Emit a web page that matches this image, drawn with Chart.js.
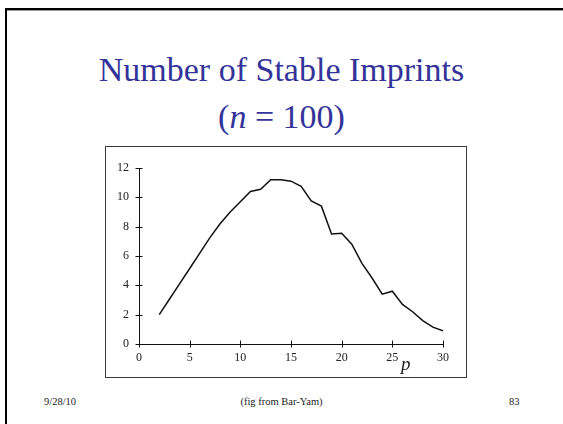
<!DOCTYPE html>
<html>
<head>
<meta charset="utf-8">
<script src="https://cdn.jsdelivr.net/npm/chart.js@4.4.1/dist/chart.umd.min.js"></script>
<style>
  html, body { margin: 0; padding: 0; background: #fff; }
  body { width: 563px; height: 424px; position: relative; overflow: hidden; font-family: 'Liberation Serif', 'Times New Roman', serif; }
  .frame-top { position: absolute; left: 5px; top: 8px; width: 558px; height: 2px; background: #000; }
  .frame-top-shade { position: absolute; left: 7px; top: 10px; width: 556px; height: 1px; background: #9a9a9a; }
  .frame-left { position: absolute; left: 5px; top: 8px; width: 2px; height: 416px; background: #000; }
  .title { position: absolute; left: 0; width: 563px; text-align: center; color: #333399; font-size: 34px; line-height: 1; }
  .box { position: absolute; left: 105px; top: 146px; width: 362px; height: 232px; border: 1px solid #3a3a3a; box-sizing: border-box; }
  #js-chart { position: absolute; left: 106px; top: 147px; }
  .axis-name { position: absolute; left: 401px; top: 353px; font-style: italic; font-size: 19px; color: #222; }
  .foot { position: absolute; top: 396px; font-size: 10.5px; color: #222; }
</style>
</head>
<body>
<div class="frame-top"></div>
<div class="frame-top-shade"></div>
<div class="frame-left"></div>

<div class="title" style="top: 53px;">Number of Stable Imprints</div>
<div class="title" style="top: 100px;">(<i>n</i> = 100)</div>

<div class="box"></div>
<canvas id="js-chart" width="360" height="230"></canvas>
<div class="axis-name">p</div>

<div class="foot" style="left: 44px;">9/28/10</div>
<div class="foot" style="left: 0; width: 563px; text-align: center;">(fig from Bar-Yam)</div>
<div class="foot" style="left: 509px;">83</div>

<script>
// p values and number of stable imprints for each p
const P_VALUES = [2, 3, 4, 5, 6, 7, 8, 9, 10, 11, 12, 13, 14, 15, 16,
  17, 18, 19, 20, 21, 22, 23, 24, 25, 26, 27, 28, 29, 30];
const IMPRINTS = [2.0, 3.05, 4.1, 5.15, 6.2, 7.25, 8.2, 9.0, 9.7, 10.4, 10.55, 11.2, 11.2, 11.1, 10.75,
  9.75, 9.4, 7.5, 7.55, 6.8, 5.5, 4.5, 3.4, 3.6, 2.7, 2.2, 1.6, 1.15, 0.9];

// tick positions on both axes
const X_TICKS = [0, 5, 10, 15, 20, 25, 30];
const Y_TICKS = [0, 2, 4, 6, 8, 10, 12];

const TICK_FONT = { family: "'Liberation Serif', 'Times New Roman', serif", size: 12 };

// short tick marks crossing the axis line on both sides
const crossTicks = {
  id: 'crossTicks',
  afterDraw(chart) {
    const { ctx, scales: { x, y } } = chart;
    const half = 3.5;
    ctx.save();
    ctx.strokeStyle = '#111';
    ctx.lineWidth = 1;
    ctx.beginPath();
    X_TICKS.forEach(v => {
      const px = Math.round(x.getPixelForValue(v)) + 0.5;
      const py = y.getPixelForValue(0);
      ctx.moveTo(px, py - half);
      ctx.lineTo(px, py + half);
    });
    Y_TICKS.forEach(v => {
      const py = Math.round(y.getPixelForValue(v)) + 0.5;
      const px = x.getPixelForValue(0);
      ctx.moveTo(px - half, py);
      ctx.lineTo(px + half, py);
    });
    ctx.stroke();
    ctx.restore();
  },
};

const ctx = document.querySelector('#js-chart').getContext('2d');

new Chart(ctx, {
  type: 'line',
  data: {
    datasets: [
      {
        data: P_VALUES.map((p, i) => ({ x: p, y: IMPRINTS[i] })),
        borderColor: '#111',
        borderWidth: 1.5,
        pointRadius: 0,
        tension: 0,
        fill: false,
      },
    ],
  },
  options: {
    responsive: false,
    animation: false,
    // fixed axis sizes so the plot sits at the same spot inside the frame
    layout: { padding: { left: 0, right: 23, top: 21, bottom: 0 } },
    plugins: { legend: { display: false }, tooltip: { enabled: false } },
    scales: {
      x: {
        type: 'linear',
        min: 0,
        max: 30,
        afterFit: s => { s.height = 33; },
        afterBuildTicks: s => { s.ticks = X_TICKS.map(v => ({ value: v })); },
        grid: { drawOnChartArea: false, drawTicks: false },
        border: { display: true, color: '#111', width: 1 },
        ticks: { padding: 7, color: '#222', font: TICK_FONT, maxRotation: 0, autoSkip: false },
      },
      y: {
        min: 0,
        max: 12,
        afterFit: s => { s.width = 33; },
        afterBuildTicks: s => { s.ticks = Y_TICKS.map(v => ({ value: v })); },
        grid: { drawOnChartArea: false, drawTicks: false },
        border: { display: true, color: '#111', width: 1 },
        ticks: { padding: 10, color: '#222', font: TICK_FONT, autoSkip: false },
      },
    },
  },
  plugins: [crossTicks],
});
</script>
</body>
</html>
